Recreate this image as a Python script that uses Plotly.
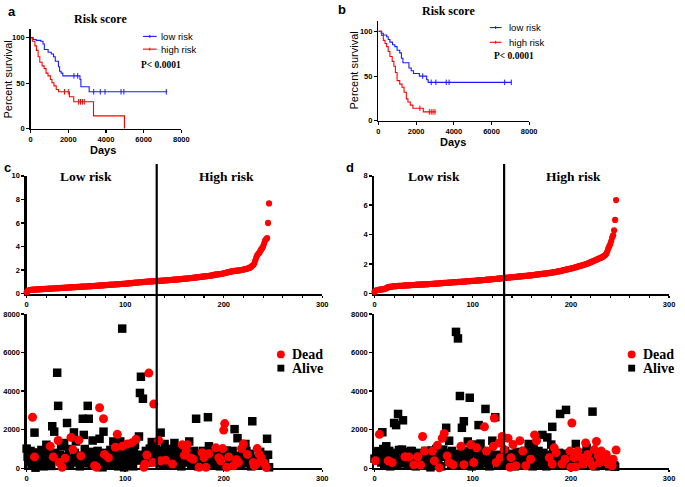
import plotly.graph_objects as go

# ---------------- DATA ----------------
# Panel a: Kaplan-Meier steps (days, percent survival)
a_low_t = [0, 140, 300, 540, 660, 730, 930, 1100, 1220, 1310, 1480, 1540, 1620, 1710, 2620, 2670, 3110, 7250]
a_low_s = [100, 98, 97, 96, 93, 87, 84, 82, 79, 74, 68, 63, 61, 58, 54, 46, 40.5, 40.5]
a_low_cens_t = [2300, 2500, 3350, 3700, 3950, 4800, 4950, 7200]
a_low_cens_s = [58, 58, 40.5, 40.5, 40.5, 40.5, 40.5, 40.5]
a_high_t = [0, 90, 230, 310, 400, 490, 610, 720, 820, 925, 1050, 1135, 1240, 1360, 1480, 2060, 2290, 3340, 4980, 4980]
a_high_s = [100, 96, 91, 86, 79, 73, 69, 66, 61, 58, 54, 50.5, 47, 43, 40.5, 35, 29.5, 14, 14, 0]
a_high_cens_t = [1800, 2000, 2550, 2650, 2750, 2850]
a_high_cens_s = [40.5, 40.5, 29.5, 29.5, 29.5, 29.5]

# Panel b
b_low_t = [0, 150, 260, 435, 520, 610, 750, 870, 990, 1130, 1220, 1300, 1620, 1740, 1860, 2170, 2560, 2640, 7050]
b_low_s = [100, 98, 96, 94, 91, 88, 85, 83, 79, 76, 70, 65, 59, 56, 53, 50, 46, 43, 43]
b_low_cens_t = [2350, 2800, 3050, 3600, 3750, 6700, 7050]
b_low_cens_s = [50, 43, 43, 43, 43, 43, 43]
b_high_t = [0, 170, 260, 350, 435, 520, 610, 730, 820, 900, 990, 1130, 1250, 1360, 1480, 1565, 1690, 1830, 2380, 3050]
b_high_s = [100, 95.5, 90, 86.5, 83, 77.5, 72, 66.5, 61, 54, 45, 41, 37.5, 32, 24.5, 21, 17.5, 14, 10, 10]
b_high_cens_t = [2200, 2700, 2800, 2900, 3000]
b_high_cens_s = [14, 10, 10, 10, 10]

km_days_ticks = [0, 2000, 4000, 6000, 8000]
km_surv_ticks = [0, 50, 100]

# Panel c top: sorted risk scores
c_risk = [
    0.10, 0.20, 0.27, 0.30, 0.31, 0.32, 0.33, 0.33, 0.34, 0.34,
    0.35, 0.35, 0.36, 0.36, 0.37, 0.37, 0.38, 0.38, 0.39, 0.39,
    0.40, 0.40, 0.41, 0.41, 0.42, 0.42, 0.43, 0.43, 0.44, 0.44,
    0.45, 0.45, 0.46, 0.46, 0.47, 0.48, 0.48, 0.49, 0.49, 0.50,
    0.50, 0.51, 0.51, 0.52, 0.52, 0.53, 0.53, 0.54, 0.54, 0.55,
    0.55, 0.56, 0.56, 0.57, 0.57, 0.58, 0.58, 0.59, 0.59, 0.60,
    0.60, 0.61, 0.61, 0.62, 0.62, 0.63, 0.63, 0.64, 0.64, 0.65,
    0.66, 0.66, 0.67, 0.67, 0.68, 0.69, 0.69, 0.70, 0.70, 0.71,
    0.72, 0.72, 0.73, 0.73, 0.74, 0.75, 0.75, 0.76, 0.77, 0.77,
    0.78, 0.78, 0.79, 0.80, 0.80, 0.81, 0.81, 0.82, 0.83, 0.83,
    0.84, 0.85, 0.85, 0.86, 0.87, 0.88, 0.88, 0.89, 0.90, 0.91,
    0.92, 0.92, 0.93, 0.94, 0.95, 0.96, 0.96, 0.97, 0.98, 0.99,
    1.00, 1.00, 1.01, 1.02, 1.02, 1.03, 1.03, 1.04, 1.04, 1.05,
    1.05, 1.06, 1.06, 1.07, 1.07, 1.08, 1.08, 1.09, 1.10, 1.10,
    1.11, 1.12, 1.12, 1.13, 1.14, 1.15, 1.15, 1.16, 1.17, 1.18,
    1.18, 1.19, 1.20, 1.20, 1.21, 1.22, 1.23, 1.23, 1.24, 1.25,
    1.26, 1.27, 1.28, 1.28, 1.29, 1.30, 1.31, 1.32, 1.33, 1.34,
    1.35, 1.36, 1.37, 1.38, 1.39, 1.40, 1.41, 1.42, 1.43, 1.44,
    1.45, 1.46, 1.47, 1.48, 1.49, 1.50, 1.51, 1.52, 1.54, 1.56,
    1.58, 1.60, 1.61, 1.62, 1.63, 1.64, 1.65, 1.66, 1.68, 1.70,
    1.72, 1.74, 1.76, 1.78, 1.80, 1.82, 1.84, 1.86, 1.88, 1.90,
    1.91, 1.92, 1.93, 1.94, 1.95, 1.96, 1.97, 1.98, 2.00, 2.02,
    2.04, 2.06, 2.08, 2.10, 2.12, 2.15, 2.18, 2.22, 2.28, 2.35,
    2.42, 2.55, 2.80, 3.05, 3.25, 3.35, 3.45, 3.60, 3.75, 3.85,
    4.00, 4.25, 4.50, 4.60, 4.70, 6.00, 7.65]

# Panel d top: sorted risk scores
d_risk = [
    0.12, 0.18, 0.22, 0.24, 0.25, 0.26, 0.27, 0.28, 0.29, 0.30,
    0.31, 0.33, 0.36, 0.40, 0.43, 0.45, 0.46, 0.47, 0.48, 0.49,
    0.50, 0.50, 0.51, 0.51, 0.52, 0.52, 0.53, 0.53, 0.53, 0.54,
    0.54, 0.55, 0.55, 0.56, 0.56, 0.56, 0.57, 0.57, 0.58, 0.58,
    0.58, 0.59, 0.59, 0.60, 0.60, 0.60, 0.61, 0.61, 0.62, 0.62,
    0.62, 0.63, 0.63, 0.64, 0.64, 0.64, 0.65, 0.65, 0.66, 0.66,
    0.66, 0.67, 0.67, 0.68, 0.68, 0.69, 0.69, 0.70, 0.70, 0.71,
    0.71, 0.72, 0.72, 0.73, 0.73, 0.74, 0.74, 0.75, 0.75, 0.76,
    0.76, 0.77, 0.77, 0.78, 0.78, 0.79, 0.79, 0.80, 0.80, 0.81,
    0.81, 0.82, 0.82, 0.83, 0.83, 0.84, 0.84, 0.85, 0.85, 0.86,
    0.86, 0.87, 0.87, 0.88, 0.88, 0.89, 0.89, 0.90, 0.90, 0.91,
    0.91, 0.92, 0.92, 0.93, 0.94, 0.94, 0.95, 0.95, 0.96, 0.97,
    0.97, 0.98, 0.99, 0.99, 1.00, 1.01, 1.01, 1.02, 1.03, 1.04,
    1.04, 1.05, 1.06, 1.06, 1.07, 1.08, 1.08, 1.09, 1.10, 1.10,
    1.11, 1.12, 1.12, 1.13, 1.14, 1.14, 1.15, 1.16, 1.16, 1.17,
    1.18, 1.18, 1.19, 1.20, 1.20, 1.21, 1.22, 1.22, 1.23, 1.24,
    1.24, 1.25, 1.26, 1.27, 1.28, 1.29, 1.30, 1.30, 1.31, 1.32,
    1.33, 1.34, 1.35, 1.36, 1.36, 1.37, 1.38, 1.39, 1.40, 1.41,
    1.42, 1.43, 1.44, 1.45, 1.46, 1.48, 1.49, 1.50, 1.52, 1.53,
    1.55, 1.56, 1.58, 1.59, 1.61, 1.62, 1.64, 1.65, 1.67, 1.68,
    1.70, 1.72, 1.73, 1.75, 1.77, 1.79, 1.81, 1.83, 1.85, 1.87,
    1.89, 1.91, 1.93, 1.95, 1.97, 1.99, 2.01, 2.04, 2.07, 2.10,
    2.12, 2.15, 2.18, 2.21, 2.24, 2.27, 2.30, 2.33, 2.36, 2.39,
    2.42, 2.45, 2.48, 2.52, 2.56, 2.62, 2.70, 2.85, 3.05, 3.20,
    3.35, 3.55, 3.80, 3.95, 4.30, 5.00, 6.35]

# Panel c bottom: patient rank vs survival days
c_dead_x = [6, 8, 24, 27, 32, 33, 36, 39, 45, 47, 53, 55, 69, 71, 74, 78, 79, 83, 90, 92,
            97, 102, 107, 111, 119, 120, 122, 124, 128, 129, 134, 136, 141, 148, 158, 160, 162, 163, 166, 169,
            175, 178, 180, 182, 185, 192, 195, 197, 199, 200, 201, 203, 205, 210, 213, 215, 218, 220, 224, 230,
            231, 233, 234, 236, 238, 241, 243]
c_dead_y = [2650, 590, 1140, 590, 1440, 300, 50, 520, 1600, 970, 1460, 640, 130, 50, 3140, 2570, 720, 550, 1090, 1760,
            1140, 1260, 1330, 1500, 50, 220, 690, 4940, 300, 3330, 1440, 390, 420, 220, 1220, 670, 920, 1220, 550, 470,
            50, 810, 550, 50, 760, 1060, 550, 390, 1020, 1980, 2320, 50, 590, 130, 440, 300, 1020, 1260, 720, 300,
            130, 220, 1020, 720, 550, 270, 50]
c_alive_x = [97, 31, 32, 116, 115, 118, 62, 57, 63, 41, 26, 28, 8, 48, 78, 74, 67, 58, 114, 136,
             127, 172, 184, 229, 211, 214, 244, 185, 203, 222, 165, 150, 140, 0, 3, 20, 35, 38, 50, 88,
             95, 100, 110, 125,
             1, 2, 4, 5, 7, 9, 10, 11, 12, 13, 14, 15, 16, 17, 18, 19, 21, 22, 23, 25,
             29, 30, 34, 37, 40, 42, 43, 44, 46, 49, 51, 52, 54, 56, 59, 60, 61, 64, 65, 66,
             68, 70, 72, 73, 75, 76, 77, 80, 81, 82, 84, 85, 86, 87, 89, 91, 93, 94, 96, 98,
             99, 101, 103, 104, 105, 106, 108, 109, 112, 113, 117, 121, 123, 126, 130, 131, 132, 133, 135, 137,
             138, 139, 142, 143, 144, 145, 146, 147, 149, 151, 152, 153, 154, 155, 156, 157, 159, 161, 164, 167,
             168, 170, 171, 173, 174, 176, 177, 179, 181, 183, 186, 187, 188, 189, 190, 191, 193, 194, 196, 198,
             202, 204, 206, 207, 208, 209, 212, 216, 217, 219, 221, 223, 225, 226, 227, 228, 232, 235, 237, 239,
             240, 242, 245, 246]
c_alive_y = [7250, 4960, 3240, 4750, 3910, 3610, 3240, 2570, 2570, 2350, 2180, 1900, 1850, 1860, 1900, 1530, 1440, 1730, 1650, 1850,
             1360, 2570, 2650, 2440, 2030, 1560, 1530, 1140, 920, 1260, 1390, 1310, 1260, 1020, 800, 1220, 1140, 1310, 1390, 1390,
             1390, 1140, 1220, 1020,
             600, 350, 900, 200, 700, 30, 450, 820, 150, 600, 300, 950, 500, 100, 750, 400, 650, 250, 900, 120,
             800, 450, 700, 200, 600, 350, 1000, 150, 500, 800, 300, 650, 100, 450, 1000, 250, 700, 500, 850, 150,
             600, 350, 900, 200, 700, 450, 50, 800, 300, 600, 150, 950, 400, 700, 250, 500, 100, 850, 300, 600,
             50, 750, 350, 900, 200, 550, 100, 800, 400, 700, 500, 900, 300, 700, 600, 1000, 400, 800, 250, 650,
             900, 150, 500, 800, 350, 1000, 600, 200, 750, 450, 900, 150, 600, 350, 850, 100, 650, 300, 800, 200,
             550, 900, 350, 650, 100, 750, 400, 900, 250, 600, 350, 800, 150, 700, 450, 950, 300, 650, 100, 800,
             400, 600, 250, 750, 450, 900, 300, 650, 150, 700, 400, 900, 250, 600, 750, 100, 500, 350, 850, 200,
             600, 400, 700, 50]

# Panel d bottom
d_dead_x = [5, 1, 14, 18, 31, 35, 40, 44, 47, 49, 51, 59, 61, 64, 66, 69, 71, 74, 76, 80,
            88, 91, 98, 101, 104, 112, 114, 122, 121, 124, 127, 128, 130, 132, 136, 138, 139, 141, 144, 148,
            151, 154, 159, 163, 165, 178, 181, 183, 185, 191, 194, 199, 200, 201, 203, 205, 207, 210, 212, 215,
            217, 219, 222, 224, 226, 228, 229, 231, 233, 236, 238, 240, 242, 243, 246]
d_dead_y = [1760, 390, 390, 300, 600, 590, 180, 600, 170, 1650, 890, 890, 390, 1190, 20, 1560, 1810, 640, 300, 180,
            1140, 180, 1230, 300, 1060, 2150, 890, 2610, 1140, 300, 1310, 550, 1650, 970, 1560, 50, 550, 1230, 130, 1430,
            890, 130, 470, 1730, 1430, 550, 220, 1060, 810, 220, 470, 890, 50, 2350, 550, 80, 890, 550, 220, 1310,
            720, 390, 130, 970, 1390, 640, 300, 890, 550, 720, 220, 390, 130, 470, 950]
d_alive_x = [83, 85, 87, 97, 113, 123, 24, 20, 22, 29, 8, 73, 91, 89, 106, 76, 189, 195, 222, 181,
             171, 176, 180, 120, 102, 108, 162, 157, 205, 216, 12, 4, 28, 38, 58, 70, 95, 2,
             0, 3, 6, 7, 9, 10, 11, 13, 15, 16, 17, 19, 21, 23, 25, 26, 27, 30, 32, 33,
             34, 36, 37, 39, 41, 42, 43, 45, 46, 48, 50, 52, 53, 54, 55, 56, 57, 60, 62, 63,
             65, 67, 68, 72, 75, 77, 78, 79, 81, 82, 84, 86, 90, 92, 93, 94, 96, 99, 100, 103,
             105, 107, 109, 110, 111, 115, 116, 117, 118, 119, 125, 126, 129, 131, 133, 134, 135, 137, 140, 142,
             143, 145, 146, 147, 149, 150, 152, 153, 155, 156, 158, 160, 161, 164, 166, 167, 168, 169, 170, 172,
             173, 174, 175, 177, 179, 182, 184, 186, 187, 188, 190, 192, 193, 196, 197, 198, 202, 204, 206, 208,
             209, 211, 213, 214, 218, 220, 221, 223, 225, 227, 230, 232, 234, 235, 237, 239, 241, 244, 245]
d_alive_y = [7080, 6740, 3750, 3660, 3080, 2650, 2820, 2350, 2240, 2490, 1870, 2100, 2440, 2100, 2240, 1430, 2820, 3030, 2940, 2150,
             1730, 1600, 1230, 1430, 1230, 1280, 1140, 1260, 1260, 1060, 1140, 890, 970, 890, 920, 970, 1390, 470,
             500, 800, 650, 300, 1000, 200, 700, 450, 900, 100, 600, 350, 800, 150, 950, 500, 250, 700, 400, 850,
             150, 600, 900, 300, 750, 100, 500, 800, 250, 650, 400, 900, 150, 600, 350, 800, 50, 700, 450, 1000,
             250, 600, 100, 800, 350, 700, 200, 900, 450, 600, 150, 750, 350, 900, 200, 600, 450, 100, 800, 300,
             650, 150, 900, 400, 700, 250, 550, 100, 800, 450, 700, 200, 600, 350, 900, 150, 500, 750, 300, 650,
             100, 850, 400, 600, 200, 750, 350, 900, 150, 550, 300, 800, 100, 650, 400, 900, 250, 600, 150, 800,
             350, 650, 100, 700, 450, 900, 250, 600, 150, 800, 400, 650, 200, 750, 300, 550, 100, 400, 700, 250,
             600, 150, 800, 350, 550, 200, 650, 300, 100, 500, 250, 600, 150, 450, 300, 100, 200, 150, 80]

rank_ticks = [0, 100, 200, 300]
days_ticks = [0, 2000, 4000, 6000, 8000]
cut_rank = 132

RED = "#ff0000"
BLUE = "#1a1aff"
W, H = 685, 487


def px(x):
    return x / W


def py(y):
    return 1 - y / H


fig = go.Figure()

# KM traces
for t, s, ct, cs, col, xa, ya in [
    (a_low_t, a_low_s, a_low_cens_t, a_low_cens_s, BLUE, "x", "y"),
    (a_high_t, a_high_s, a_high_cens_t, a_high_cens_s, RED, "x", "y"),
    (b_low_t, b_low_s, b_low_cens_t, b_low_cens_s, BLUE, "x2", "y2"),
    (b_high_t, b_high_s, b_high_cens_t, b_high_cens_s, RED, "x2", "y2"),
]:
    fig.add_trace(go.Scatter(x=t, y=s, mode="lines", line=dict(color=col, width=1.1, shape="hv"),
                             xaxis=xa, yaxis=ya, showlegend=False, cliponaxis=False))
    fig.add_trace(go.Scatter(x=ct, y=cs, mode="markers",
                             marker=dict(symbol="line-ns-open", size=4, color=col, line=dict(color=col, width=1)),
                             xaxis=xa, yaxis=ya, showlegend=False, cliponaxis=False))

# risk score curves
fig.add_trace(go.Scatter(x=list(range(len(c_risk))), y=c_risk, mode="markers",
                         marker=dict(color=RED, size=6.2), xaxis="x3", yaxis="y3",
                         showlegend=False, cliponaxis=False))
fig.add_trace(go.Scatter(x=list(range(len(d_risk))), y=d_risk, mode="markers",
                         marker=dict(color=RED, size=6.2), xaxis="x5", yaxis="y5",
                         showlegend=False, cliponaxis=False))

# survival status scatters
for xs, ys, xa, ya, col, sym, sz in [
    (c_alive_x, c_alive_y, "x4", "y4", "black", "square", 8.5),
    (c_dead_x, c_dead_y, "x4", "y4", RED, "circle", 9),
    (d_alive_x, d_alive_y, "x6", "y6", "black", "square", 8.5),
    (d_dead_x, d_dead_y, "x6", "y6", RED, "circle", 9),
]:
    fig.add_trace(go.Scatter(x=xs, y=ys, mode="markers",
                             marker=dict(color=col, symbol=sym, size=sz, line=dict(width=0)),
                             xaxis=xa, yaxis=ya, showlegend=False, cliponaxis=False))

tickfont_km = dict(family="Liberation Sans", size=7.5, color="black", weight="bold")
tickfont_sc = dict(family="Liberation Sans", size=7.5, color="black", weight="bold")


def km_axes(xd, yd, yr):
    xa = dict(domain=xd, range=[0, 8000], tickvals=km_days_ticks, showline=True, linecolor="black",
              linewidth=1.5, ticks="outside", ticklen=3, tickwidth=1.2, tickcolor="black",
              showgrid=False, zeroline=False, tickfont=tickfont_km, fixedrange=True)
    ya = dict(domain=yd, range=yr, tickvals=km_surv_ticks, showline=True, linecolor="black",
              linewidth=1.5, ticks="outside", ticklen=3, tickwidth=1.2, tickcolor="black",
              showgrid=False, zeroline=False, tickfont=tickfont_km, fixedrange=True)
    return xa, ya


def sc_axes(xd, yd, yr, ytv, minor):
    xa = dict(domain=xd, range=[0, 300], tickvals=rank_ticks, showline=True, linecolor="black",
              linewidth=2.2, ticks="outside", ticklen=2, tickwidth=1.5, tickcolor="black",
              showgrid=False, zeroline=False, tickfont=tickfont_sc, layer="below traces")
    if minor:
        xa["minor"] = dict(dtick=20, ticks="outside", ticklen=2, tickwidth=1.2, tickcolor="black")
    ya = dict(domain=yd, range=yr, tickvals=ytv, showline=True, linecolor="black",
              linewidth=2.2, ticks="outside", ticklen=3, tickwidth=1.5, tickcolor="black",
              showgrid=False, zeroline=False, tickfont=tickfont_sc, layer="below traces")
    return xa, ya


xa1, ya1 = km_axes([px(29), px(182)], [py(127), py(25)], [0, 110])
xa2, ya2 = km_axes([px(382), px(535)], [py(119), py(17)], [0, 112])
xa3, ya3 = sc_axes([px(25), px(325)], [py(295), py(175)], [0, 10], [0, 2, 4, 6, 8, 10], True)
xa4, ya4 = sc_axes([px(25), px(325)], [py(473), py(316)], [0, 8000], days_ticks, False)
xa5, ya5 = sc_axes([px(378), px(677)], [py(295), py(175)], [0, 8], [0, 2, 4, 6, 8], True)
xa6, ya6 = sc_axes([px(378), px(677)], [py(473), py(316)], [0, 8000], days_ticks, False)

for i, (xa, ya) in enumerate([(xa1, ya1), (xa2, ya2), (xa3, ya3), (xa4, ya4), (xa5, ya5), (xa6, ya6)], start=1):
    sfx = "" if i == 1 else str(i)
    xa["anchor"] = "y" + sfx
    ya["anchor"] = "x" + sfx
    fig.update_layout(**{"xaxis" + sfx: xa, "yaxis" + sfx: ya})

shapes = []
ann = []


def text(x, y, s, size, family="Liberation Sans", weight="normal", xanchor="center", angle=0, color="black"):
    ann.append(dict(x=px(x), y=py(y), xref="paper", yref="paper", text=s, showarrow=False,
                    xanchor=xanchor, yanchor="middle", textangle=angle,
                    font=dict(family=family, size=size, color=color, weight=weight)))


# cutoff lines
shapes.append(dict(type="line", xref="x3", yref="paper", x0=cut_rank, x1=cut_rank,
                   y0=py(473), y1=py(163), line=dict(color="black", width=2.2)))
shapes.append(dict(type="line", xref="x5", yref="paper", x0=cut_rank, x1=cut_rank,
                   y0=py(473), y1=py(163), line=dict(color="black", width=2.2)))

# panel a texts
text(10, 8, "a", 13, weight="bold")
text(100, 15, "Risk score", 12, family="Liberation Serif", weight="bold")
text(103, 149, "Days", 11, weight="bold")
text(6, 77, "Percent survival", 11, angle=-90)
for yy, col, lab in [(33, BLUE, "low risk"), (46, RED, "high risk")]:
    shapes.append(dict(type="line", xref="paper", yref="paper", x0=px(143), x1=px(157), y0=py(yy), y1=py(yy),
                       line=dict(color=col, width=1.1)))
    shapes.append(dict(type="line", xref="paper", yref="paper", x0=px(150), x1=px(150), y0=py(yy - 1.5), y1=py(yy + 1.5),
                       line=dict(color=col, width=1)))
    text(159, yy, lab, 9.5, xanchor="left")
text(139, 62, "P< 0.0001", 9.5, family="Liberation Serif", weight="bold", xanchor="left")

# panel b texts
text(345, 6, "b", 13, weight="bold")
text(453, 7, "Risk score", 12, family="Liberation Serif", weight="bold")
text(458, 141, "Days", 11, weight="bold")
text(357, 68, "Percent survival", 11, angle=-90)
for yy, col, lab in [(24, BLUE, "low risk"), (39, RED, "high risk")]:
    shapes.append(dict(type="line", xref="paper", yref="paper", x0=px(495), x1=px(507), y0=py(yy), y1=py(yy),
                       line=dict(color=col, width=1.1)))
    shapes.append(dict(type="line", xref="paper", yref="paper", x0=px(501), x1=px(501), y0=py(yy - 1.5), y1=py(yy + 1.5),
                       line=dict(color=col, width=1)))
    text(512, yy, lab, 9.5, xanchor="left")
text(497, 53, "P< 0.0001", 9.5, family="Liberation Serif", weight="bold", xanchor="left")

# panel c/d texts
text(6, 167, "c", 13, weight="bold")
text(353, 167, "d", 13, weight="bold")
text(85, 176, "Low risk", 13.5, family="Liberation Serif", weight="bold")
text(228, 176, "High risk", 13.5, family="Liberation Serif", weight="bold")
text(438, 176, "Low risk", 13.5, family="Liberation Serif", weight="bold")
text(580, 176, "High risk", 13.5, family="Liberation Serif", weight="bold")

# Dead / Alive legends
for cx in [283, 639]:
    shapes.append(dict(type="circle", xref="paper", yref="paper", x0=px(cx - 4), x1=px(cx + 4),
                       y0=py(357 + 4), y1=py(357 - 4), fillcolor=RED, line=dict(width=0)))
    shapes.append(dict(type="rect", xref="paper", yref="paper", x0=px(cx - 3.5), x1=px(cx + 3.5),
                       y0=py(371 + 3.5), y1=py(371 - 3.5), fillcolor="black", line=dict(width=0)))
    text(cx + 9, 357, "Dead", 14, family="Liberation Serif", weight="bold", xanchor="left")
    text(cx + 9, 371, "Alive", 14, family="Liberation Serif", weight="bold", xanchor="left")

fig.update_layout(width=W, height=H, margin=dict(l=0, r=0, t=0, b=0), paper_bgcolor="white",
                  plot_bgcolor="rgba(0,0,0,0)", shapes=shapes, annotations=ann, showlegend=False)

fig.write_html("out.html", config={"displayModeBar": False, "staticPlot": True},
               post_script="document.body.style.margin='0';document.body.style.overflow='hidden';")
